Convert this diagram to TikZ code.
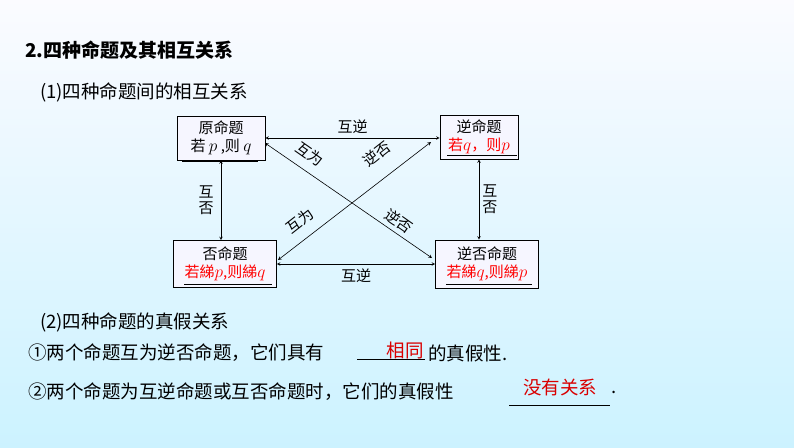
\documentclass[tikz,border=0pt]{standalone}
\usepackage{fontspec}
\setmainfont{Liberation Serif}
\newfontfamily\cjk{Noto Sans CJK SC}
\newcommand{\mv}[1]{{\fontsize{17}{18}\selectfont$#1$}}
\begin{document}
\begin{tikzpicture}[x=1pt,y=-1pt,
  box/.style={draw,line width=0.6pt,fill=white!40!blue!6,minimum width=#1,minimum height=44pt,inner sep=1pt,align=center,font=\cjk\fontsize{15}{18}\selectfont},
  arr/.style={<->,>=stealth,line width=0.6pt},
  lbl/.style={font=\cjk\fontsize{15}{16}\selectfont,inner sep=1pt},
  txt/.style={anchor=west,font=\cjk\fontsize{18.5}{20}\selectfont,inner sep=0pt},
  red/.style={text=red!85!black}]
\useasboundingbox (0,0) rectangle (794,447);
\shade[top color=white!80!blue!8, bottom color=blue!25!cyan!20!white] (0,0) rectangle (794,447);
\node[txt,font=\cjk\bfseries\fontsize{19}{21}\selectfont] (t) at (25,50) {2.四种命题及其相互关系};
\node[txt] (s1) at (40,92) {(1)四种命题间的相互关系};
\node[box=88pt] (a) at (221,138) {原命题\\若 \mv{p} ,则 \mv{q}};
\node[box=78pt] (b) at (479,137) {逆命题\\\textcolor{red}{若\mv{q}，则\mv{p}}};
\node[box=103pt,minimum height=47pt] (c) at (225,264) {否命题\\\textcolor{red}{若綈\mv{p},则綈\mv{q}}};
\node[box=103pt,minimum height=48pt] (d) at (487,264) {逆否命题\\\textcolor{red}{若綈\mv{q},则綈\mv{p}}};
\draw (182,161)--(258,161) (447,155)--(517,155) (184,284)--(272,284) (446,284)--(532,284);
\draw[arr] (a.east|-a) -- (b.west|-a) node[lbl,midway,above=3pt] {互逆};
\draw[arr] (c.east) -- (d.west) node[lbl,midway,below=4pt] {互逆};
\draw[arr] (a.south) -- (a.south|-c.north) node[lbl,midway,left=6pt,align=center] {互\\否};
\draw[arr] (b.south) -- (b.south|-d.north) node[lbl,midway,right=2pt,align=center] {互\\否};
\draw[arr] (265,143) -- (432,258);
\draw[arr] (431,142) -- (278,260);
\node[lbl,rotate=-35] (l1) at (310,154) {互为};
\node[lbl,rotate=-35] (l2) at (399,221) {逆否};
\node[lbl,rotate=38] (l3) at (377,154) {逆否};
\node[lbl,rotate=38] (l4) at (300,221) {互为};
\node[txt] (s2) at (40,322) {(2)四种命题的真假关系};
\node[txt] (s3) at (28,353) {①两个命题互为逆否命题，它们具有};
\node[txt] (s3b) at (428,353) {的真假性.};
\draw (357,359) -- (425,359);
\node[txt,red,anchor=center] (r1) at (405,350) {相同};
\node[txt] (s4) at (28,392) {②两个命题为互逆命题或互否命题时，它们的真假性};
\node[txt] (s4b) at (611,392) {.};
\draw (509,405) -- (610,405);
\node[txt,red,anchor=center] (r2) at (560,387) {没有关系};
\end{tikzpicture}
\end{document}
